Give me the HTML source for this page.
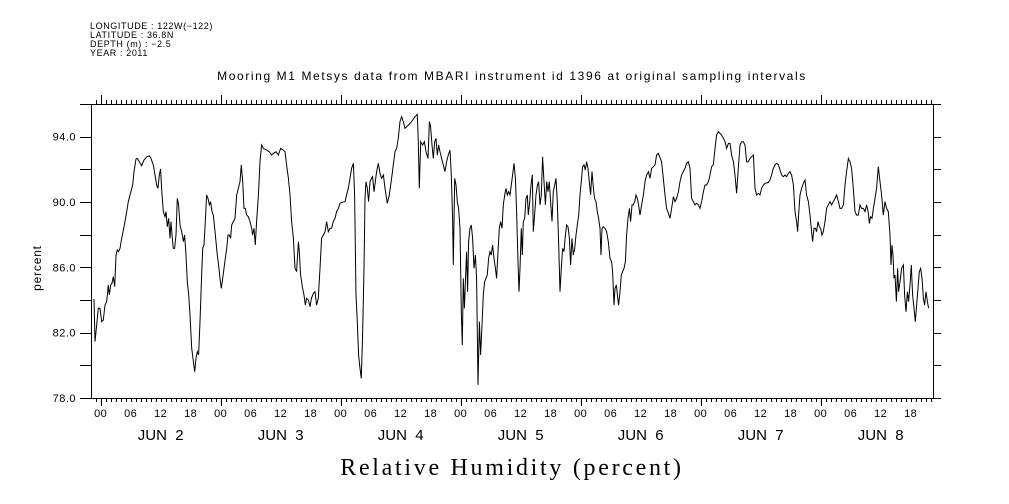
<!DOCTYPE html>
<html><head><meta charset="utf-8"><style>
body{margin:0;background:#fff;}
svg{display:block;}
text{font-family:"Liberation Sans",sans-serif;fill:#000;}
</style></head><body>
<svg id="chart" width="1009" height="504" viewBox="0 0 1009 504" xmlns="http://www.w3.org/2000/svg">
<g font-size="9" letter-spacing="0.6">
<text x="90" y="29">LONGITUDE : 122W(−122)</text>
<text x="90" y="38">LATITUDE : 36.8N</text>
<text x="90" y="47">DEPTH (m) : −2.5</text>
<text x="90" y="56">YEAR : 2011</text>
</g>
<text x="512" y="80" text-anchor="middle" font-size="12" letter-spacing="1.6">Mooring M1 Metsys data from MBARI instrument id 1396 at original sampling intervals</text>
<text transform="translate(41,268) rotate(-90)" text-anchor="middle" font-size="12" letter-spacing="0.8">percent</text>
<text x="512" y="475" text-anchor="middle" font-size="24" letter-spacing="2.7" style="font-family:'Liberation Serif',serif">Relative Humidity (percent)</text>
<g id="axes"></g>
<path id="line" fill="none" stroke="#000" stroke-width="1"></path>
</svg>
<script>
// hours since Jun 2 00:00
const times=[-1.34,-1.14,-0.81,-0.47,-0.14,0.19,0.53,0.86,1.19,1.53,1.73,2.0,2.26,2.53,2.79,3.06,3.33,3.59,3.86,4.19,4.39,4.86,5.19,5.53,5.86,6.39,6.66,7.06,7.33,7.73,8.19,8.66,9.19,9.73,9.99,10.53,10.86,11.19,11.46,11.73,11.99,12.19,12.53,12.86,13.06,13.33,13.59,13.86,14.06,14.26,14.53,14.79,15.06,15.33,15.59,15.86,16.19,16.53,16.79,17.06,17.33,17.59,17.86,18.19,18.53,18.79,19.06,19.33,19.59,19.86,20.13,20.39,20.66,20.93,21.19,21.46,21.73,21.99,22.26,22.53,22.79,23.06,23.33,23.59,23.86,24.13,24.39,24.66,24.93,25.19,25.46,25.73,25.99,26.19,26.53,26.86,27.19,27.53,27.86,28.13,28.39,28.66,28.93,29.19,29.53,29.86,30.19,30.39,30.66,30.93,31.19,31.53,31.86,32.19,32.53,33.19,33.73,34.19,34.53,35.06,35.53,35.99,36.53,36.86,37.19,37.53,37.86,38.19,38.53,38.86,39.19,39.53,39.73,39.99,40.39,40.66,40.93,41.19,41.53,41.86,42.13,42.53,42.86,43.19,43.53,43.86,44.19,44.53,44.86,45.19,45.53,45.86,46.19,46.53,46.86,47.19,47.53,47.86,48.19,48.86,49.19,49.53,49.86,50.19,50.53,50.79,51.06,51.33,51.59,51.86,52.13,52.39,52.66,52.86,53.06,53.33,53.59,53.86,54.19,54.39,54.66,54.93,55.19,55.53,55.86,
56.19,56.53,56.86,57.33,57.73,58.19,58.53,58.86,59.19,59.53,59.86,60.19,60.53,60.86,61.53,62.19,62.86,63.33,63.53,63.73,63.99,64.39,64.73,65.06,65.46,65.73,65.99,66.26,66.53,66.79,67.06,67.33,67.59,67.86,68.19,68.53,68.86,69.19,69.53,69.86,70.13,70.39,70.53,70.79,71.06,71.33,71.59,71.86,72.13,72.33,72.53,72.73,72.93,73.19,73.39,73.59,73.86,74.13,74.39,74.66,74.93,75.19,75.46,75.73,75.99,76.26,76.53,76.79,77.06,77.33,77.59,77.86,78.13,78.39,78.66,78.93,79.19,79.46,79.73,79.99,80.26,80.53,80.79,81.06,81.33,81.59,81.86,82.13,82.39,82.66,82.93,83.19,83.46,83.66,83.86,84.13,84.33,84.53,84.79,85.06,85.33,85.53,85.79,86.06,86.33,86.53,86.79,87.06,87.33,87.59,87.86,88.13,88.39,88.66,88.93,89.19,89.46,89.73,89.99,90.26,90.53,90.79,91.06,91.33,91.59,91.86,92.13,92.39,92.66,92.93,93.19,93.46,93.73,93.99,94.26,94.53,94.79,95.06,95.33,95.59,95.86,96.13,96.39,96.66,96.93,97.19,97.46,97.73,97.99,98.26,98.53,98.79,99.06,99.33,99.59,99.86,100.06,100.26,100.53,100.86,101.19,101.53,101.86,102.19,102.39,102.66,102.86,103.13,103.33,103.59,103.86,104.13,104.39,104.66,104.93,105.19,105.46,105.73,105.99,106.26,106.53,106.79,107.06,107.33,107.59,107.86,108.19,108.53,108.86,109.19,109.53,109.86,110.19,110.53,110.86,111.19,111.53,
112.19,112.53,112.86,113.19,113.53,113.86,114.19,114.53,114.86,115.19,115.53,115.86,116.19,116.53,116.86,117.19,117.53,117.86,118.19,118.53,118.86,119.19,119.53,119.86,120.19,120.53,120.86,121.19,121.53,121.86,122.19,122.53,122.86,123.19,123.53,123.86,124.19,124.53,124.86,125.19,125.53,125.86,126.19,126.53,126.86,127.19,127.53,127.86,128.19,128.53,128.86,129.19,129.53,129.86,130.19,130.53,130.86,131.19,131.53,131.86,132.19,132.53,132.86,133.53,133.86,134.19,134.53,134.86,135.19,135.53,135.86,136.19,136.53,136.86,137.19,137.53,137.86,138.19,138.53,138.86,139.19,139.39,139.59,139.86,140.19,140.53,140.86,141.19,141.53,141.86,142.19,142.39,142.66,142.93,143.19,143.46,143.73,143.99,144.26,144.53,144.86,145.19,145.53,145.86,146.19,146.53,146.86,147.19,147.53,147.86,148.19,148.53,148.86,149.19,149.53,149.86,150.19,150.53,150.86,151.19,151.53,151.86,152.19,152.53,152.86,153.19,153.53,153.73,153.99,154.26,154.53,154.86,155.19,155.53,155.86,156.19,156.53,156.86,157.19,157.53,157.86,158.06,158.26,158.46,158.66,158.86,159.13,159.39,159.59,159.86,160.19,160.53,160.79,161.06,161.33,161.59,161.86,162.13,162.39,162.66,162.93,163.19,163.46,163.73,163.99,164.26,164.53,164.79,165.06,165.33,165.59];
const humidity=[84.06,81.45,82.47,83.49,83.49,82.67,82.77,83.69,83.9,84.92,84.31,84.92,85.02,85.43,84.82,86.75,87.06,86.96,87.16,87.78,88.08,88.8,89.41,90.02,90.43,91.04,91.86,92.63,92.67,92.47,92.22,92.57,92.77,92.82,92.71,92.27,91.65,91.04,90.84,91.65,92.02,90.84,89.41,89.1,89.41,88.49,89.0,87.78,88.8,87.98,87.16,87.16,87.98,90.22,89.82,88.59,88.18,87.57,87.98,86.75,85.12,84.31,83.08,81.04,80.22,79.61,80.43,80.84,80.63,82.67,85.12,87.16,87.37,88.8,90.43,90.22,89.82,90.02,89.41,89.2,88.39,87.57,86.75,86.14,85.33,84.71,85.33,85.94,86.55,87.16,87.98,87.98,87.78,88.59,88.8,89.0,90.43,90.84,91.24,92.27,91.24,89.61,89.61,89.2,89.1,88.8,88.39,87.98,88.39,87.37,88.8,90.43,92.47,93.49,93.28,93.18,93.08,92.88,92.98,93.08,92.88,93.28,93.18,93.08,92.27,91.45,90.43,88.8,87.78,85.94,85.73,87.57,86.96,85.53,84.71,84.31,83.69,84.1,84.0,83.59,84.1,84.41,84.51,83.69,84.1,85.94,87.78,87.98,88.18,88.8,88.18,88.39,88.39,88.8,89.0,89.41,89.61,89.92,89.98,90.02,90.43,90.84,91.45,92.06,92.37,90.43,84.31,82.67,80.63,79.82,79.2,81.86,85.94,90.22,91.24,90.84,90.02,91.24,91.45,91.55,90.63,91.24,91.86,92.37,91.75,
91.45,91.65,90.84,89.92,90.43,91.45,92.27,93.08,93.28,93.9,94.92,95.22,94.92,94.51,94.71,94.92,95.22,95.37,93.69,90.84,93.69,93.49,93.69,93.08,92.67,94.92,94.61,93.49,92.67,93.69,93.9,92.88,93.49,93.08,92.67,92.27,91.86,92.47,92.88,93.18,91.65,89.0,86.14,91.45,91.04,90.02,89.61,88.39,83.28,81.24,85.33,83.49,85.12,86.96,84.51,87.57,88.39,88.59,87.78,85.94,86.75,85.33,78.8,82.67,80.63,82.47,84.31,85.12,85.33,85.53,86.55,86.96,86.75,87.37,86.55,85.94,85.33,86.96,88.39,88.8,88.39,89.82,90.43,90.84,90.43,90.63,90.43,91.04,91.65,92.37,91.45,89.41,86.35,84.51,85.94,88.39,86.75,88.8,89.0,90.22,90.43,89.2,90.02,91.04,91.65,88.18,89.2,90.43,91.04,91.24,89.82,90.43,92.77,91.24,89.82,91.24,90.63,91.24,90.02,88.8,90.63,91.04,91.45,90.02,87.57,84.51,85.94,87.16,86.96,87.98,88.59,88.49,87.78,86.14,87.78,86.75,87.16,87.98,88.59,89.2,90.43,91.24,92.16,92.27,91.96,92.47,92.06,91.24,90.43,91.86,90.84,90.22,90.02,89.41,89.0,88.39,86.75,88.39,88.49,88.39,88.18,87.57,86.55,86.35,85.73,83.69,84.71,84.92,84.31,83.69,84.51,85.53,85.73,85.94,86.35,87.98,89.0,89.61,88.8,89.82,89.82,90.02,90.43,90.22,89.82,89.2,89.82,90.43,91.24,91.65,91.86,91.45,92.06,92.16,92.27,92.88,92.98,
92.47,91.45,90.43,89.61,89.31,89.0,89.61,90.33,90.02,90.22,90.63,91.24,91.65,91.86,92.06,92.37,92.47,92.06,90.22,90.02,89.82,89.92,89.82,89.61,90.02,90.63,91.04,91.04,91.24,91.65,92.16,92.27,93.28,94.1,94.31,94.2,94.1,93.9,93.69,93.28,93.59,93.59,92.88,92.47,91.65,90.53,92.06,93.49,93.69,93.69,93.49,92.47,92.47,92.67,92.77,92.88,90.84,90.43,90.53,90.43,90.84,91.04,91.14,91.2,91.35,91.65,92.06,92.27,92.37,92.27,91.96,91.65,91.55,91.65,91.55,91.75,91.86,91.65,91.04,89.41,88.8,88.18,89.2,90.43,90.84,91.14,91.35,90.43,90.02,89.2,88.18,87.57,88.39,88.39,88.18,88.8,88.49,88.39,87.98,88.18,88.8,89.61,89.82,90.02,89.82,90.02,90.22,90.43,90.02,89.61,89.61,89.82,91.04,91.86,92.67,92.47,92.06,90.84,89.41,89.2,89.2,89.82,89.61,89.61,89.41,89.82,89.31,88.69,89.1,89.0,89.61,90.22,90.84,92.16,91.24,90.43,89.2,90.02,89.61,89.41,87.98,86.14,87.37,86.75,85.33,85.53,83.9,85.94,84.51,85.12,85.94,86.14,84.31,83.28,84.51,83.9,84.92,86.14,84.31,83.49,82.67,83.69,84.71,85.73,85.94,85.33,84.1,83.69,84.51,83.9,83.49];
const yTicks=[78,82,86,90,94];
const yTickLabels=["78.0","82.0","86.0","90.0","94.0"];
const hourLabels=["00","06","12","18"];
const dayLabels=["JUN  2","JUN  3","JUN  4","JUN  5","JUN  6","JUN  7","JUN  8"];
const T0=-1.94, T1=166.46, V0=78, V1=96;
const L=91,R=933,TOP=104,BOT=398;
function x(t){return L+(t-T0)/(T1-T0)*(R-L);}
function y(v){return BOT-(v-V0)/(V1-V0)*(BOT-TOP);}
const NS="http://www.w3.org/2000/svg";
const g=document.getElementById('axes');
function ln(x1,y1,x2,y2,name){const e=document.createElementNS(NS,'line');e.setAttribute('x1',x1);e.setAttribute('y1',y1);e.setAttribute('x2',x2);e.setAttribute('y2',y2);e.setAttribute('stroke','#000');e.setAttribute('stroke-width','1');


g.appendChild(e);return e;}
function tx(xx,yy,s,anchor,size,name){const e=document.createElementNS(NS,'text');e.setAttribute('x',xx);e.setAttribute('y',yy);e.setAttribute('text-anchor',anchor);e.setAttribute('font-size',size);e.textContent=s;


g.appendChild(e);return e;}
const fr=document.createElementNS(NS,'rect');
fr.setAttribute('x',L+0.5);fr.setAttribute('y',TOP+0.5);fr.setAttribute('width',R-L);fr.setAttribute('height',BOT-TOP);fr.setAttribute('fill','none');fr.setAttribute('stroke','#000');


g.appendChild(fr);
for(let v=V0;v<=V1;v+=2){const yy=Math.round(y(v))+0.5;ln(L-11,yy,L,yy,'y-tick-left');ln(R,yy,R+8,yy,'y-tick-right');}
yTicks.forEach((v,i)=>{const e=tx(L-15,y(v)+4,yTickLabels[i],'end',11,'y-tick-label');e.setAttribute('letter-spacing','0.5');});
for(let h=Math.ceil(T0);h<=T1;h++){const xx=Math.round(x(h))+0.5;const major=((h%24)+24)%24===0;
ln(xx,BOT,xx,BOT+(major?8:4),'x-tick-bottom');ln(xx,TOP,xx,TOP-(major?9:4),'x-tick-top');
if(h%6===0&&h>=0){const e=tx(x(h),417,hourLabels[(h/6)%4],'middle',11,'hour-label');e.setAttribute('letter-spacing','0.5');}}
dayLabels.forEach((d,i)=>{const e=tx(x(i*24+12),440,d,'middle',15,'day-label');e.setAttribute('xml:space','preserve');e.style.whiteSpace='pre';});
let dstr='';
times.forEach((t,i)=>{dstr+=(i?'L':'M')+x(t).toFixed(1)+','+y(humidity[i]).toFixed(1);});
document.getElementById('line').setAttribute('d',dstr);
</script>
</body></html>
